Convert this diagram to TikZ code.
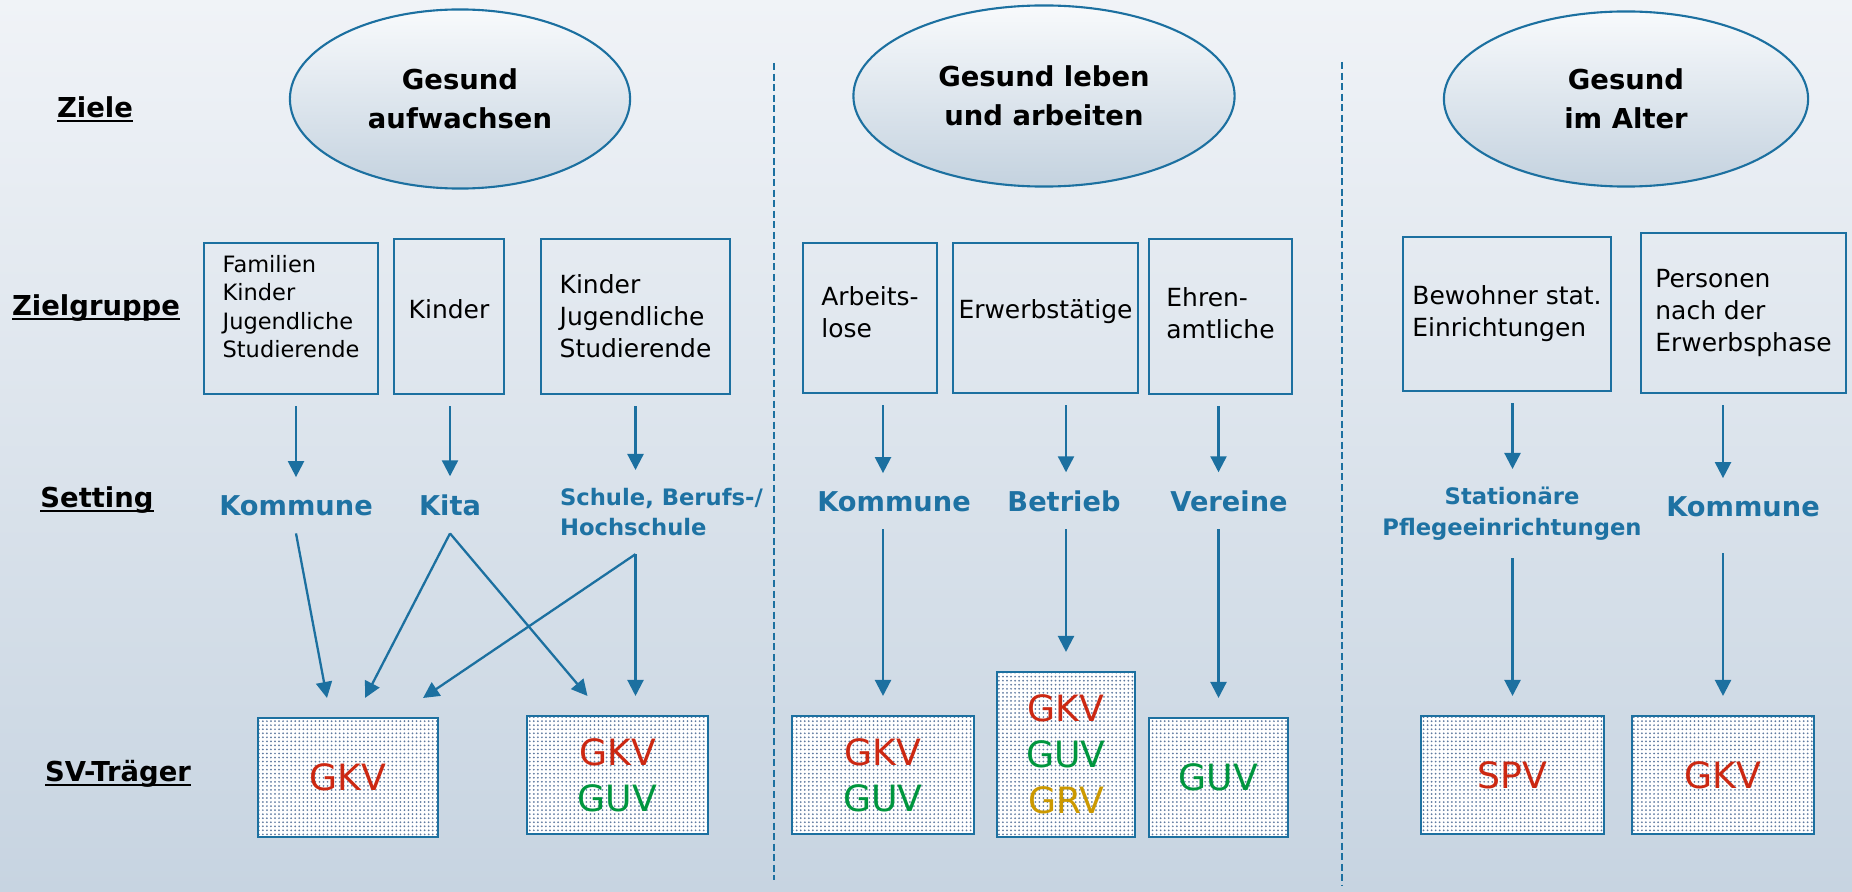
\documentclass[tikz,border=0pt]{standalone}
\usepackage{fontspec}
\setmainfont{DejaVu Sans}
\usetikzlibrary{shapes.geometric,arrows.meta,patterns.meta,positioning}

\definecolor{bgTop}{RGB}{240,243,247}
\definecolor{bgBot}{RGB}{199,212,225}
\definecolor{ellTop}{RGB}{248,250,252}
\definecolor{ellBot}{RGB}{196,210,223}
\definecolor{lineBlue}{RGB}{28,112,160}
\definecolor{setBlue}{RGB}{30,114,163}
\definecolor{dotBlue}{RGB}{95,122,160}
\definecolor{gkvRed}{RGB}{204,40,18}
\definecolor{guvGreen}{RGB}{0,150,62}
\definecolor{grvGold}{RGB}{204,153,0}

\newcommand{\rowUline}[1]{\setbox0\hbox{#1}\rlap{\rule[-1.4pt]{\wd0}{0.55pt}}\box0}

\begin{document}
\begin{tikzpicture}[
            x=0.01cm, y=-0.01cm,
            zielNode/.style={ellipse, draw=lineBlue, line width=0.6pt, top color=ellTop,
            bottom color=ellBot, align=center, inner sep=0pt,
            font=\fontsize{7.8}{11.1}\selectfont\bfseries},
            rowLabel/.style={anchor=base, font=\fontsize{7.8}{9}\selectfont\bfseries},
            groupNode/.style={rectangle, draw=lineBlue, line width=0.65pt, align=left,
            inner sep=0pt, outer sep=0.12cm, font=\fontsize{7.1}{9.1}\selectfont},
            settingNode/.style={text=setBlue, inner sep=0pt, outer sep=0.18cm,
            font=\fontsize{7.75}{9}\selectfont\bfseries},
            settingSmall/.style={settingNode, font=\fontsize{6.45}{8.7}\selectfont\bfseries},
            traegerNode/.style={rectangle, draw=lineBlue, line width=0.7pt, preaction={fill=white},
            pattern={Dots[distance=1.15pt,radius=0.28pt]}, pattern color=dotBlue,
            align=center, inner sep=0pt, outer sep=0.2cm, font=\fontsize{10.3}{13.1}\selectfont},
            arrow/.style={draw=lineBlue, line width=0.65pt, -{Triangle[width=0.16cm,length=0.16cm]}},
            sepLine/.style={draw=lineBlue, line width=0.55pt, dash pattern=on 2pt off 1pt},
        ]
        \useasboundingbox (0,0) rectangle (1852,891);
        \fill[top color=bgTop, bottom color=bgBot] (0,0) rectangle (1852,891);
        \draw[sepLine] (774,63) -- (774,880);
        \draw[sepLine] (1342,62) -- (1342,886);

        % row labels
        \node[rowLabel] (zieleLbl)   at (95,117)  {\rowUline{Ziele}};
        \node[rowLabel] (gruppeLbl)  at (96,315)  {\rowUline{Zielgruppe}};
        \node[rowLabel] (settingLbl) at (97,507)  {\rowUline{Setting}};
        \node[rowLabel] (traegerLbl) at (118,781) {\rowUline{SV-Träger}};

        \node[zielNode, minimum width=3.40cm, minimum height=1.79cm] (zielAuf)   at (460,99)  {Gesund\\aufwachsen};
        \node[zielNode, minimum width=3.81cm, minimum height=1.81cm] (zielLeben) at (1044,96) {Gesund leben\\und arbeiten};
        \node[zielNode, minimum width=3.64cm, minimum height=1.75cm] (zielAlter) at (1626,99) {Gesund\\im Alter};

        \node[groupNode, minimum width=1.74cm, minimum height=1.51cm, text depth=0.24cm,
            font=\fontsize{6.4}{8.05}\selectfont] (famBox) at (291,318.5) {Familien\\Kinder\\Jugendliche\\Studierende};
        \node[groupNode, minimum width=1.10cm, minimum height=1.55cm, text depth=0.14cm] (kitaBox) at (449,316.5) {Kinder};
        \node[groupNode, minimum width=1.89cm, minimum height=1.55cm] (hochBox)  at (635.5,316.5) {Kinder\\Jugendliche\\Studierende};
        \node[groupNode, minimum width=1.34cm, minimum height=1.50cm, text depth=0.12cm] (loseBox) at (870,318) {Arbeits-\\lose};
        \node[groupNode, minimum width=1.85cm, minimum height=1.50cm, text depth=0.18cm] (erwBox) at (1045.5,318) {Erwerbstätige};
        \node[groupNode, minimum width=1.43cm, minimum height=1.55cm, text depth=0.07cm] (ehrenBox) at (1220.5,316.5) {Ehren-\\amtliche};
        \node[groupNode, minimum width=2.08cm, minimum height=1.54cm] (bewBox)   at (1507,314)   {Bewohner stat.\\Einrichtungen};
        \node[groupNode, minimum width=2.05cm, minimum height=1.60cm] (persBox)  at (1743.5,313) {Personen\\nach der\\Erwerbsphase};

        \node[settingNode, anchor=base] (kommuneA)   at (296,515)  {Kommune};
        \node[settingNode, anchor=base] (kitaSet)    at (450,515)  {Kita};
        \node[settingSmall, anchor=north west, align=left] (schuleSet) at (542,470) {Schule, Berufs-/\\Hochschule};
        \node[settingNode, anchor=base] (kommuneB)   at (894,511)  {Kommune};
        \node[settingNode, anchor=base] (betriebSet) at (1064,511) {Betrieb};
        \node[settingNode, anchor=base] (vereineSet) at (1229,511) {Vereine};
        \node[settingSmall, anchor=north, align=center] (pflegeSet) at (1512,469) {Stationäre\\Pflegeeinrichtungen};
        \node[settingNode, anchor=base] (kommuneC)   at (1743,516) {Kommune};

        \node[traegerNode, minimum width=1.80cm, minimum height=1.19cm] (gkvA)    at (348,777.5) {\textcolor{gkvRed}{GKV}};
        \node[traegerNode, minimum width=1.81cm, minimum height=1.18cm] (gkvGuvA) at (617.5,775) {\textcolor{gkvRed}{GKV}\\\textcolor{guvGreen}{GUV}};
        \node[traegerNode, minimum width=1.82cm, minimum height=1.18cm] (gkvGuvB) at (883,775)   {\textcolor{gkvRed}{GKV}\\\textcolor{guvGreen}{GUV}};
        \node[traegerNode, minimum width=1.38cm, minimum height=1.65cm] (dreiBox) at (1066,754.5) {\textcolor{gkvRed}{GKV}\\\textcolor{guvGreen}{GUV}\\\textcolor{grvGold}{GRV}};
        \node[traegerNode, minimum width=1.39cm, minimum height=1.19cm] (guvBox)  at (1218.5,777.5) {\textcolor{guvGreen}{GUV}};
        \node[traegerNode, minimum width=1.83cm, minimum height=1.18cm] (spvBox)  at (1512.5,775) {\textcolor{gkvRed}{SPV}};
        \node[traegerNode, minimum width=1.82cm, minimum height=1.18cm] (gkvC)    at (1723,775)  {\textcolor{gkvRed}{GKV}};

        % Zielgruppe -> Setting
        \draw[arrow] (famBox.south -| kommuneA.base) -- (kommuneA.north);
        \draw[arrow] (kitaBox.south -| kitaSet.base) -- (kitaSet.north);
        \draw[arrow] (hochBox.south) -- (hochBox.south |- schuleSet.north);
        \draw[arrow] (loseBox.south -| gkvGuvB.north) -- (kommuneB.north -| gkvGuvB.north);
        \draw[arrow] (erwBox.south -| dreiBox.north) -- (betriebSet.north -| dreiBox.north);
        \draw[arrow] (ehrenBox.south -| guvBox.north) -- (vereineSet.north -| guvBox.north);
        \draw[arrow] (bewBox.south -| spvBox.north) -- (pflegeSet.north -| spvBox.north);
        \draw[arrow] (persBox.south -| gkvC.north) -- (kommuneC.north -| gkvC.north);

        % Setting -> SV-Traeger
        \draw[arrow] (kommuneA.south) -- ([xshift=-0.21cm]gkvA.north);
        \draw[arrow] (kitaSet.south) -- ([xshift=0.17cm]gkvA.north);
        \draw[arrow] (kitaSet.south) -- ([xshift=-0.30cm]gkvGuvA.north);
        \draw[arrow] (schuleSet.south -| hochBox.south) -- ([xshift=0.75cm]gkvA.north);
        \draw[arrow] (schuleSet.south -| hochBox.south) -- (gkvGuvA.north -| hochBox.south);
        \draw[arrow] (kommuneB.south -| gkvGuvB.north) -- (gkvGuvB.north);
        \draw[arrow] (betriebSet.south -| dreiBox.north) -- (dreiBox.north);
        \draw[arrow] (vereineSet.south -| guvBox.north) -- (guvBox.north);
        \draw[arrow] (pflegeSet.south -| spvBox.north) -- (spvBox.north);
        \draw[arrow, shorten <=0.19cm] (kommuneC.south -| gkvC.north) -- (gkvC.north);
    \end{tikzpicture}
\end{document}
